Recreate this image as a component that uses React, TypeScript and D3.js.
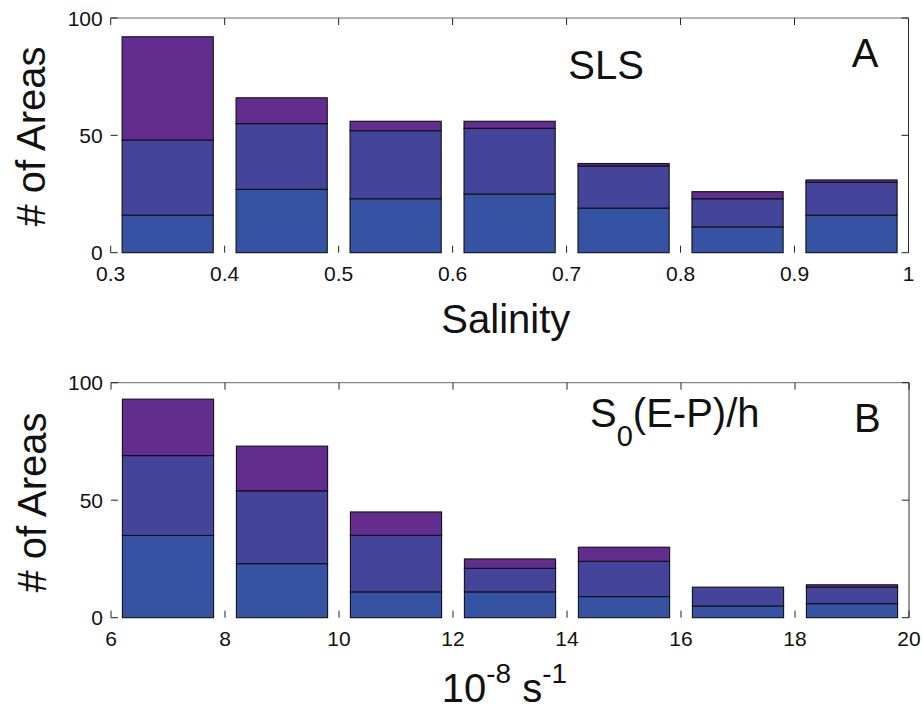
import React from "react";
import * as d3 from "d3";

// ---- Data ----
const salinityCenters = [0.35, 0.45, 0.55, 0.65, 0.75, 0.85, 0.95];
const slsLow = [16, 27, 23, 25, 19, 11, 16];
const slsMid = [32, 28, 29, 28, 18, 12, 14];
const slsHigh = [44, 11, 4, 3, 1, 3, 1];
const salinityTicks = [0.3, 0.4, 0.5, 0.6, 0.7, 0.8, 0.9, 1];

const epCenters = [7, 9, 11, 13, 15, 17, 19];
const epLow = [35, 23, 11, 11, 9, 5, 6];
const epMid = [34, 31, 24, 10, 15, 8, 7];
const epHigh = [24, 19, 10, 4, 6, 0, 1];
const epTicks = [6, 8, 10, 12, 14, 16, 18, 20];

const yTicks = [0, 50, 100];
const seriesColors = ["#3653a3", "#44449a", "#622d8e"];

const FONT = "'Liberation Sans', Arial, Helvetica, sans-serif";

type PanelProps = {
  centers: number[];
  series: number[][];
  xDomain: [number, number];
  xTicks: number[];
  binWidth: number;
  fmt: (v: number) => string;
  left: number;
  right: number;
  top: number;
  bottom: number;
};

function Panel({ centers, series, xDomain, xTicks, binWidth, fmt, left, right, top, bottom }: PanelProps) {
  const x = d3.scaleLinear().domain(xDomain).range([left, right]);
  const y = d3.scaleLinear().domain([0, 100]).range([bottom, top]);
  const rows = centers.map((c, i) => ({ c, s0: series[0][i], s1: series[1][i], s2: series[2][i] }));
  const stacked = d3.stack<any>().keys(["s0", "s1", "s2"])(rows);
  const tl = 7;
  const bw = binWidth * 0.8;
  return (
    <g>
      {stacked.map((layer, li) =>
        layer.map((d, i) => {
          const x0 = x(rows[i].c - bw / 2);
          const x1 = x(rows[i].c + bw / 2);
          const y0 = y(d[0]);
          const y1 = y(d[1]);
          if (d[1] - d[0] <= 0) return null;
          return (
            <rect
              key={`${li}-${i}`}
              x={x0}
              y={y1}
              width={x1 - x0}
              height={y0 - y1}
              fill={seriesColors[li]}
              stroke="#111"
              strokeWidth={1.1}
            />
          );
        })
      )}
      {/* box: top and right lines */}
      <line x1={left} x2={right} y1={top} y2={top} stroke="#666" strokeWidth={1} />
      <line x1={right} x2={right} y1={top} y2={bottom} stroke="#333" strokeWidth={1} />
      {/* x ticks (top & bottom, inward) */}
      {xTicks.map((t) => (
        <g key={"xt" + t}>
          <line x1={x(t)} x2={x(t)} y1={bottom} y2={bottom - tl} stroke="#222" strokeWidth={1} />
          <line x1={x(t)} x2={x(t)} y1={top} y2={top + tl} stroke="#222" strokeWidth={1} />
          <text x={x(t)} y={bottom + 28} textAnchor="middle" fontSize={21} fontFamily={FONT} fill="#111">
            {fmt(t)}
          </text>
        </g>
      ))}
      {/* y ticks (left & right, inward) */}
      {yTicks.map((t) => (
        <g key={"yt" + t}>
          <line x1={left} x2={left + tl} y1={y(t)} y2={y(t)} stroke="#222" strokeWidth={1} />
          <line x1={right} x2={right - tl} y1={y(t)} y2={y(t)} stroke="#222" strokeWidth={1} />
          <text x={left - 8} y={y(t) + 7.5} textAnchor="end" fontSize={21} fontFamily={FONT} fill="#111">
            {t}
          </text>
        </g>
      ))}
    </g>
  );
}

export default function App() {
  return (
    <svg
      width={922}
      height={711}
      style={{ position: "absolute", left: 0, top: 0, background: "#fff" }}
    >
      <rect x={0} y={0} width={922} height={711} fill="#fff" />
      <Panel
        centers={salinityCenters}
        series={[slsLow, slsMid, slsHigh]}
        xDomain={[0.3, 1]}
        xTicks={salinityTicks}
        binWidth={0.1}
        fmt={(v) => (v === 1 ? "1" : d3.format(".1f")(v))}
        left={110.7}
        right={908.5}
        top={18}
        bottom={252.7}
      />
      <Panel
        centers={epCenters}
        series={[epLow, epMid, epHigh]}
        xDomain={[6, 20]}
        xTicks={epTicks}
        binWidth={2}
        fmt={(v) => String(v)}
        left={111}
        right={909}
        top={382.7}
        bottom={617.7}
      />
      {/* Panel A texts */}
      <text transform="translate(45,136.5) rotate(-90)" textAnchor="middle" fontSize={40} fontFamily={FONT} fill="#111">
        # of Areas
      </text>
      <text x={505.8} y={333} textAnchor="middle" fontSize={40} fontFamily={FONT} fill="#111">
        Salinity
      </text>
      <text x={568.3} y={79.3} fontSize={40} fontFamily={FONT} fill="#111">
        SLS
      </text>
      <text x={851.7} y={66.7} fontSize={40} fontFamily={FONT} fill="#111">
        A
      </text>
      {/* Panel B texts */}
      <text transform="translate(46,502.5) rotate(-90)" textAnchor="middle" fontSize={40} fontFamily={FONT} fill="#111">
        # of Areas
      </text>
      <text x={590} y={426.7} fontSize={40} fontFamily={FONT} fill="#111">
        S
        <tspan fontSize={29} dy={19}>0</tspan>
        <tspan dy={-19}>(E-P)/h</tspan>
      </text>
      <text x={854} y={431.7} fontSize={40} fontFamily={FONT} fill="#111">
        B
      </text>
      <text x={441.7} y={702} fontSize={40} fontFamily={FONT} fill="#111">
        10
        <tspan fontSize={28} dy={-19}>-8</tspan>
        <tspan dy={19}> s</tspan>
        <tspan fontSize={28} dy={-19}>-1</tspan>
      </text>
    </svg>
  );
}
